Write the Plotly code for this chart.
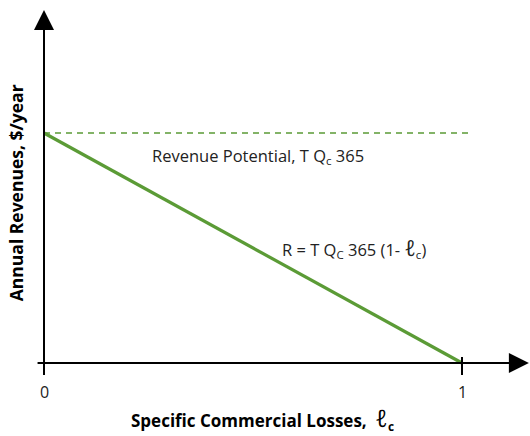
"""
Revenue vs specific commercial losses - schematic line chart.
"""

import plotly.graph_objects as go

# data (normalised: revenue potential = 1)
loss_x = [0, 1]
revenue_y = [1, 0]
potential_x = [0, 1.015]
potential_y = [1, 1]
tick_vals = [0, 1]
tick_text = ["0", "1"]

GREEN = "#5b9b36"
FONT = "Open Sans"

fig = go.Figure()

fig.add_trace(go.Scatter(
    x=potential_x, y=potential_y, mode="lines",
    line=dict(color=GREEN, width=1.6, dash="6px,5px"),
    hoverinfo="skip", showlegend=False,
))
fig.add_trace(go.Scatter(
    x=loss_x, y=revenue_y, mode="lines",
    line=dict(color=GREEN, width=3.2),
    hoverinfo="skip", showlegend=False,
))

# axes drawn as arrows
fig.add_annotation(x=1.16, y=0, ax=-0.019, ay=0, xref="x", yref="y",
                   axref="x", ayref="y", showarrow=True, text="",
                   arrowhead=2, arrowsize=2, arrowwidth=2, arrowcolor="black")
fig.add_annotation(x=0, y=1.535, ax=0, ay=-0.052, xref="x", yref="y",
                   axref="x", ayref="y", showarrow=True, text="",
                   arrowhead=2, arrowsize=2, arrowwidth=2, arrowcolor="black")

# tick marks and labels
for v, t in zip(tick_vals, tick_text):
    fig.add_shape(type="line", x0=v, x1=v, y0=0.026, y1=-0.052,
                  line=dict(color="black", width=2))
    fig.add_annotation(x=v, y=-0.126, text=t, showarrow=False,
                       font=dict(family=FONT, size=16, color="#222"))

fig.add_annotation(
    x=0.512, y=0.9, text="Revenue Potential, T Q<sub>c</sub> 365",
    showarrow=False, font=dict(family=FONT, size=16.5, color="#222"),
)
fig.add_annotation(
    x=0.565, y=0.504, xanchor="left",
    text="R = T Q<sub>C</sub> 365 (1- <i><span style='font-size:22px'>ℓ</span></i><sub>c</sub>)",
    showarrow=False, font=dict(family=FONT, size=16.5, color="#222"),
)

# axis titles
fig.add_annotation(
    x=0.495, y=0.0, xref="paper", yref="paper", yanchor="bottom",
    text="<b>Specific Commercial Losses,</b>  <i><span style='font-size:24px'>ℓ</span></i><b><sub>c</sub></b>",
    showarrow=False, font=dict(family=FONT, size=17, color="black"),
)
fig.add_annotation(
    x=0.004, y=0.557, xref="paper", yref="paper", xanchor="left",
    textangle=-90, text="<b>Annual Revenues, $/year</b>",
    showarrow=False, font=dict(family=FONT, size=17.5, color="black"),
)

fig.update_layout(
    width=530, height=436,
    margin=dict(l=0, r=0, t=0, b=0),
    paper_bgcolor="white", plot_bgcolor="white",
    xaxis=dict(range=[-0.10526, 1.16268], visible=False, fixedrange=True),
    yaxis=dict(range=[-0.3174, 1.5783], visible=False, fixedrange=True),
    showlegend=False,
)

fig.write_html("out.html", config={"displayModeBar": False},
               post_script="document.body.style.margin='0';")
